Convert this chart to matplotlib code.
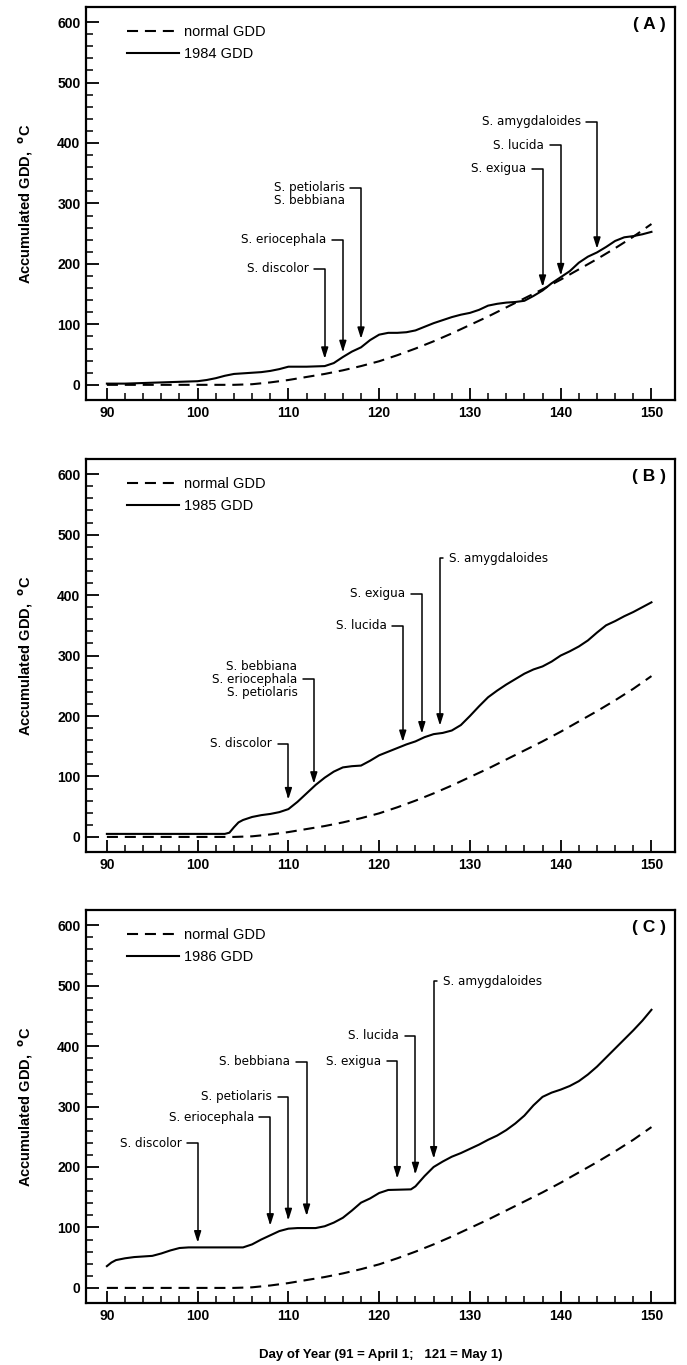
import numpy as np
import matplotlib
matplotlib.use("Agg")
import matplotlib.pyplot as plt
from matplotlib.ticker import FixedLocator

# normal GDD (same for every year)
normal_days = [90, 95, 100, 104, 106, 108, 110, 112, 114, 116, 118, 120, 122, 124,
               126, 128, 130, 132, 134, 136, 138, 140, 142, 144, 146, 148, 150]
normal_gdd = [0, 0, 0, 0, 1, 4, 8, 13, 18, 24, 31, 39, 49, 60,
              72, 85, 99, 113, 128, 143, 158, 174, 191, 208, 226, 245, 266]

# 1984
days_84 = [90, 92, 94, 96, 98, 100, 101, 102, 103, 104, 105, 107, 108, 109, 110, 112,
           114, 115, 116, 117, 118, 119, 120, 121, 122, 123, 124, 125, 126, 127, 128,
           129, 130, 131, 132, 133, 134, 135, 136, 137, 138, 139, 140, 141, 142, 143,
           144, 145, 146, 147, 148, 149, 150]
gdd_84 = [2, 2, 3, 4, 5, 6, 8, 11, 15, 18, 19, 21, 23, 26, 30, 30,
          31, 36, 46, 55, 62, 74, 83, 86, 86, 87, 90, 96, 102, 107, 112,
          116, 119, 124, 131, 134, 136, 137, 139, 147, 156, 168, 178, 188, 202, 212,
          219, 228, 238, 244, 246, 249, 253]

# 1985
days_85 = [90, 103, 103.5, 104, 104.5, 105, 106, 107, 108, 109, 110, 111, 112, 113,
           114, 115, 116, 117, 118, 119, 120, 121, 122, 123, 124, 125, 126, 127, 128,
           129, 130, 131, 132, 133, 134, 135, 136, 137, 138, 139, 140, 141, 142, 143,
           144, 145, 146, 147, 148, 149, 150]
gdd_85 = [5, 5, 7, 16, 24, 28, 33, 36, 38, 41, 46, 58, 72, 86,
          98, 108, 115, 117, 118, 126, 135, 141, 147, 153, 158, 165, 170, 172, 176,
          185, 200, 216, 231, 242, 252, 261, 270, 277, 282, 290, 300, 307, 315, 325,
          338, 350, 357, 365, 372, 380, 388]

# 1986
days_86 = [90, 90.5, 91, 92, 93, 94, 95, 96, 97, 98, 99, 105, 106, 107, 108, 109,
           110, 111, 113, 114, 115, 116, 117, 118, 119, 120, 121, 123.5, 124, 125, 126,
           127, 128, 129, 130, 131, 132, 133, 134, 135, 136, 137, 138, 139, 140, 141,
           142, 143, 144, 145, 146, 147, 148, 149, 150]
gdd_86 = [36, 42, 46, 49, 51, 52, 53, 57, 62, 66, 67, 67, 72, 80, 87, 94,
          98, 99, 99, 102, 108, 116, 128, 141, 148, 157, 162, 163, 168, 185, 200,
          209, 217, 223, 230, 237, 245, 252, 261, 272, 285, 302, 316, 323, 328, 334,
          342, 353, 366, 381, 396, 411, 426, 442, 460]

# bud-break arrows: label, day, label height, arrow tip
a_labels = ["S. discolor", "S. eriocephala", "S. petiolaris\nS. bebbiana",
            "S. exigua", "S. lucida", "S. amygdaloides"]
a_days = [114, 116, 118, 138, 140, 144]
a_text_y = [192, 240, 315, 357, 396, 435]
a_tips = [43, 54, 76, 162, 181, 225]
a_side = ["l", "l", "l", "l", "l", "l"]
a_row = [0.5, 0.5, 0.75, 0.5, 0.5, 0.5]

b_labels = ["S. discolor", "S. bebbiana\nS. eriocephala\nS. petiolaris",
            "S. lucida", "S. exigua", "S. amygdaloides"]
b_days = [110, 112.8, 122.6, 124.7, 126.7]
b_text_y = [154, 261, 349, 402, 461]
b_tips = [62, 88, 157, 171, 184]
b_side = ["l", "l", "l", "l", "r"]
b_row = [0.5, 0.5, 0.5, 0.5, 0.5]

c_labels = ["S. discolor", "S. eriocephala", "S. petiolaris", "S. bebbiana",
            "S. exigua", "S. lucida", "S. amygdaloides"]
c_days = [100, 108, 110, 112, 122, 124, 126]
c_text_y = [239, 282, 316, 374, 375, 417, 507]
c_tips = [75, 103, 112, 119, 181, 188, 214]
c_side = ["l", "l", "l", "l", "l", "l", "r"]
c_row = [0.5] * 7

panels = [
    ("( A )", "1984 GDD", days_84, gdd_84, a_labels, a_days, a_text_y, a_tips, a_side, a_row),
    ("( B )", "1985 GDD", days_85, gdd_85, b_labels, b_days, b_text_y, b_tips, b_side, b_row),
    ("( C )", "1986 GDD", days_86, gdd_86, c_labels, c_days, c_text_y, c_tips, c_side, c_row),
]

plt.rcParams["font.family"] = ["Liberation Sans", "DejaVu Sans"]

fig = plt.figure(figsize=(6.87, 13.65), dpi=100)
bottoms = [0.7070, 0.3758, 0.0454]

for (tag, year_lbl, dd, gg, labels, adays, ty, tips, side, row), b in zip(panels, bottoms):
    ax = fig.add_axes([0.1252, b, 0.8574, 0.2879])
    ax.plot(normal_days, normal_gdd, color="k", lw=1.5, dashes=(5.3, 3.3), label="normal GDD")
    ax.plot(dd, gg, color="k", lw=1.5, label=year_lbl)

    ax.set_xlim(87.7, 152.6)
    ax.set_ylim(-25, 625)
    ax.xaxis.set_major_locator(FixedLocator(np.arange(90, 151, 10)))
    ax.xaxis.set_minor_locator(FixedLocator(np.arange(90, 151, 2)))
    ax.yaxis.set_major_locator(FixedLocator(np.arange(0, 601, 100)))
    ax.yaxis.set_minor_locator(FixedLocator(np.arange(0, 601, 20)))
    ax.tick_params(which="major", direction="in", length=9, width=1.3, labelsize=10, pad=4)
    ax.tick_params(which="minor", direction="in", length=5, width=1.1)
    for lbl in ax.get_xticklabels() + ax.get_yticklabels():
        lbl.set_fontweight("bold")
    for sp in ax.spines.values():
        sp.set_linewidth(1.6)

    ax.set_ylabel("Accumulated GDD,  $^{\\mathbf{o}}$C", fontsize=10.5, fontweight="bold")
    ax.yaxis.set_label_coords(-0.086, 0.5)

    ax.legend(loc="upper left", bbox_to_anchor=(0.069, 0.955), frameon=False,
              borderpad=0, borderaxespad=0, handlelength=3.6, handletextpad=0.3,
              labelspacing=0.55, fontsize=10.5)

    ax.text(0.985, 0.955, tag, transform=ax.transAxes, ha="right", va="center",
            fontsize=12.5, fontweight="bold")

    for lab, x, y, tip, s, r in zip(labels, adays, ty, tips, side, row):
        if s == "l":
            tx, ha, rel = x - 1.8, "right", (1, r)
        else:
            tx, ha, rel = x + 1.0, "left", (0, r)
        ax.annotate(lab, xy=(x, tip), xytext=(tx, y), ha=ha, va="center",
                    multialignment=ha, family="DejaVu Sans", fontstretch="condensed",
                    fontsize=9.5, linespacing=1.0,
                    arrowprops=dict(arrowstyle="-|>,head_length=0.7,head_width=0.22",
                                    connectionstyle="angle,angleA=0,angleB=90,rad=0",
                                    relpos=rel, shrinkA=2, shrinkB=0, lw=1.1, color="k"))

ax.set_xlabel("Day of Year (91 = April 1;   121 = May 1)", fontsize=9.5, fontweight="bold")
ax.xaxis.set_label_coords(0.5, -0.117)
ax.xaxis.label.set_va("top")

fig.savefig("out.png", dpi=100)
